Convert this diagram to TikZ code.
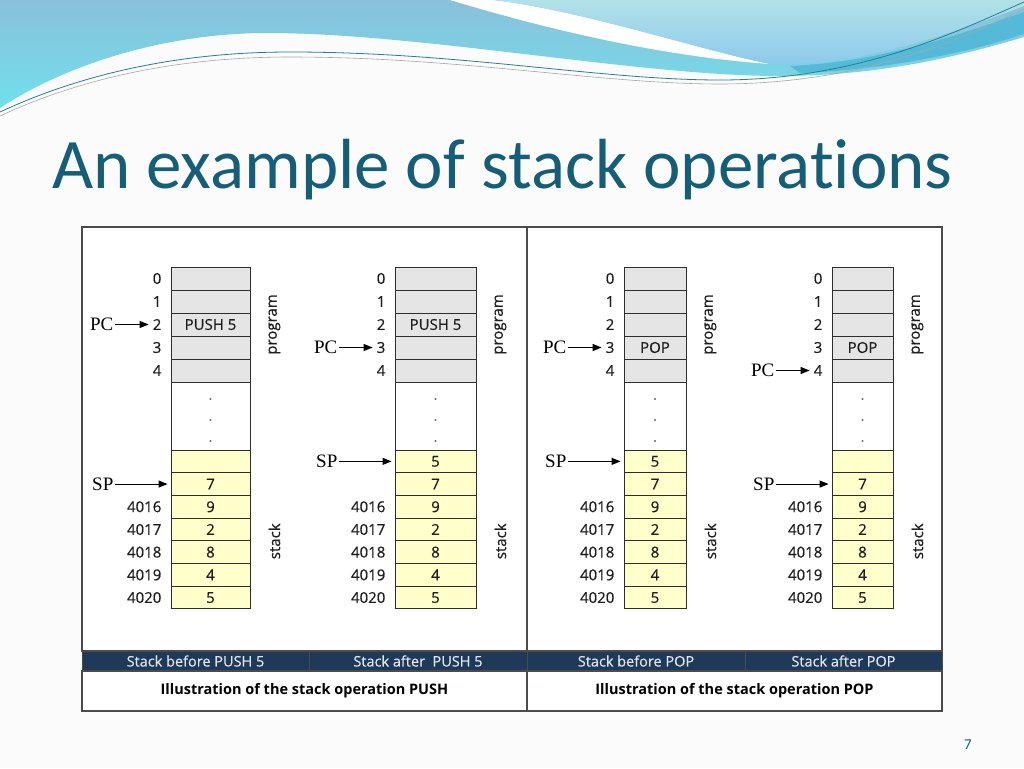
\documentclass[tikz,border=0pt]{standalone}
\usepackage{fontspec}
\setmainfont{Open Sans}[UprightFeatures={FakeBold=0.5}]
\newfontfamily\titlefont[Ligatures=NoCommon]{Carlito}
\newfontfamily\ptrfont{Liberation Serif}
\usetikzlibrary{arrows.meta,positioning,calc}
\definecolor{slidebg}{RGB}{251,251,251}
\definecolor{titleteal}{RGB}{22,94,120}
\definecolor{progfill}{RGB}{229,229,229}
\definecolor{stackfill}{RGB}{255,255,204}
\definecolor{celledge}{RGB}{45,45,45}
\definecolor{framegray}{RGB}{75,75,75}
\definecolor{bandfill}{RGB}{31,57,88}
\definecolor{bandtext}{RGB}{222,230,238}
\definecolor{labelgray}{RGB}{30,30,30}
\definecolor{wavetop}{RGB}{138,192,218}
\definecolor{wavelow}{RGB}{112,224,236}
\definecolor{lighttop}{RGB}{178,226,232}
\definecolor{lightlow}{RGB}{140,200,236}
\definecolor{wavedeep}{RGB}{84,186,216}
\definecolor{waveline}{RGB}{38,128,140}

\begin{document}
\begin{tikzpicture}[
  x=1pt,y=-1pt,
  font=\fontsize{15}{18}\selectfont,
  text=labelgray,
  pointer/.style={-{Triangle[length=9pt,width=7pt]},line width=1.1pt,draw=black,shorten >=3pt},
  panel/.style={draw=framegray,fill=white,line width=1.3pt,inner sep=0pt},
  progcell/.style={draw=celledge,fill=progfill,line width=0.9pt,minimum height=23,inner sep=0pt},
  gapcell/.style={draw=celledge,fill=white,line width=0.9pt,minimum height=68,inner sep=0pt},
  stackcell/.style={draw=celledge,fill=stackfill,line width=0.9pt,minimum height=22.7,inner sep=0pt},
  idx/.style={inner sep=1pt},
  sidelabel/.style={rotate=90,inner sep=0pt},
  dotmark/.style={font=\fontsize{13}{13}\selectfont,text=gray!80!black,inner sep=0pt},
  ptr/.style={font=\ptrfont\fontsize{19}{20}\selectfont,text=black,inner sep=1pt},
  bandcell/.style={draw=framegray,fill=bandfill,text=bandtext,line width=1pt,minimum height=20,inner sep=0pt,
    font=\fontsize{14.5}{16}\selectfont},
  capcell/.style={draw=framegray,fill=white,line width=1.3pt,minimum height=40,inner sep=0pt,
    text=black,font=\bfseries\fontsize{14.5}{16}\selectfont}
]
\fill[slidebg] (0,0) rectangle (1024,768);
\useasboundingbox (0,0) rectangle (1024,768);

% slide background waves
\shade[top color=wavetop,bottom color=wavelow] (0,0) -- (0,108)
  .. controls (70,62) and (170,33) .. (267,33)
  .. controls (420,33) and (640,76) .. (779,76)
  .. controls (880,76) and (960,56) .. (1024,37) -- (1024,0) -- cycle;
\fill[white] (450,0) .. controls (510,18) and (640,55) .. (770,64)
  .. controls (700,50) and (580,10) .. (493,0) -- cycle;
\shade[top color=lighttop,bottom color=lightlow] (493,0)
  .. controls (580,10) and (700,50) .. (770,64)
  .. controls (860,68) and (960,30) .. (1024,6) -- (1024,0) -- cycle;
\fill[wavedeep] (790,66) .. controls (880,62) and (960,35) .. (1024,12)
  -- (1024,34) .. controls (960,55) and (880,70) .. (800,73) -- cycle;
\draw[waveline,line width=0.8pt] (0,112) .. controls (90,70) and (190,52) .. (290,52)
  .. controls (460,52) and (600,80) .. (720,80) .. controls (860,80) and (960,30) .. (1024,2);
\draw[gray!70,line width=0.6pt] (0,116) .. controls (90,74) and (190,57) .. (290,57)
  .. controls (460,57) and (600,84) .. (720,84) .. controls (860,84) and (960,40) .. (1024,9);

\node[anchor=base west,font=\titlefont\fontsize{71}{80}\selectfont,text=titleteal,inner sep=0pt]
  (title) at (52,188) {An example of stack operations};

% The two panels share the band and caption rows.
\node[panel,minimum width=445,minimum height=424] (panelA) at (304.5,439) {};
\node[panel,minimum width=415,minimum height=424] (panelB) at (734.5,439) {};

% -------------------------------------------------------------------------
% Memory columns: program rows, gap, stack rows.
% -------------------------------------------------------------------------
\foreach \col/\xl/\w/\ins/\irow/\topval/\pcrow/\sprow in
  {1/171/79/{PUSH 5}/2/{}/2/1, 2/395/81/{PUSH 5}/2/5/3/0,
   3/624/62/POP/3/5/3/0, 4/832/61/POP/3/{}/4/1}
{
  \foreach \r in {0,...,4}{
    \node[progcell,minimum width=\w] (c\col-p\r) at (\xl+\w/2,278.5+23*\r) {};
    \node[idx,left=8pt of c\col-p\r] (c\col-i\r) {\r};
  }
  \node (c\col-ins) at (c\col-p\irow) {\ins};
  \node[gapcell,minimum width=\w] (c\col-g) at (\xl+\w/2,416) {};
  \foreach \d in {0,1,2}
    {\node[dotmark] (c\col-d\d) at (\xl+\w/2,399+21*\d) {.};}
  \foreach \v [count=\r from 0] in {\topval,7,9,2,8,4,5}
    {\node[stackcell,minimum width=\w] (c\col-s\r) at (\xl+\w/2,461.35+22.7*\r) {\v};}
  \foreach \a [count=\r from 2] in {4016,...,4020}
    {\node[idx,left=8pt of c\col-s\r] (c\col-a\r) {\a};}
  \node[sidelabel] (c\col-prog) at ([xshift=24pt]c\col-p2.east) {program};
  \node[sidelabel] (c\col-stk) at ([xshift=24pt]c\col-s3.south east) {stack};
  % pointers
  \node[ptr,left=37pt of c\col-i\pcrow] (pc\col) {PC};
  \draw[pointer] (pc\col) -- (c\col-i\pcrow);
  \node[ptr,left=56pt of c\col-s\sprow] (sp\col) {SP};
  \draw[pointer] (sp\col) -- (c\col-s\sprow);
}

% -------------------------------------------------------------------------
% Band and captions.
% -------------------------------------------------------------------------
\node[bandcell,minimum width=227] (b1) at (195.5,661) {Stack before PUSH 5};
\node[bandcell,minimum width=218] (b2) at (418,661) {Stack after\ \ PUSH 5};
\node[bandcell,minimum width=218] (b3) at (636,661) {Stack before POP};
\node[bandcell,minimum width=197] (b4) at (843.5,661) {Stack after POP};
\node[capcell,minimum width=445] (capA) at (304.5,691) {Illustration of the stack operation PUSH};
\node[capcell,minimum width=415] (capB) at (734.5,691) {Illustration of the stack operation POP};

\node[font=\titlefont\fontsize{15}{16}\selectfont,text=titleteal] (pagenum) at (968,745) {7};
\end{tikzpicture}
\end{document}
